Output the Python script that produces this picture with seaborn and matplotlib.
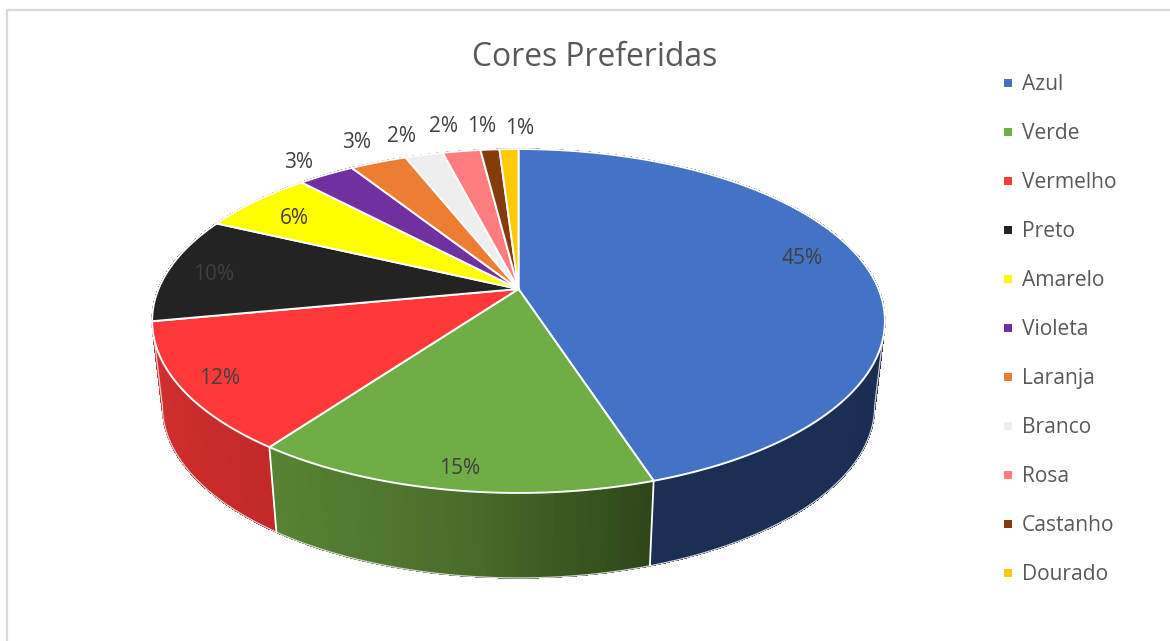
import matplotlib
matplotlib.use("Agg")
import matplotlib.pyplot as plt
import numpy as np
import seaborn as sns
from matplotlib.collections import PolyCollection

categories = ["Azul", "Verde", "Vermelho", "Preto", "Amarelo", "Violeta",
              "Laranja", "Branco", "Rosa", "Castanho", "Dourado"]
values = [45, 15, 12, 10, 6, 3, 3, 2, 2, 1, 1]
colors = ["#4472C4", "#70AD47", "#FF3939", "#232323", "#FFFF00", "#7030A0",
          "#ED7D31", "#EEEEEE", "#FF7C80", "#843C0C", "#FFC905"]
# wall shades follow the slice clockwise, so they run right to left on screen
wall_colors = [["#1A2C50", "#1B2E54"], ["#2F461A", "#4C6F2C", "#578334"],
               ["#C32929", "#D53030"], ["#151515", "#151515"],
               ["#999900", "#999900"], ["#431D60", "#431D60"],
               ["#8E4B1D", "#8E4B1D"], ["#8E8E8E", "#8E8E8E"],
               ["#99494C", "#99494C"], ["#4F2407", "#4F2407"],
               ["#997300", "#997300"]]

# layout in picture pixels
CX, CY = 518.5, 289
RX, RY, TILT = 360, 166, 0.186
DEPTH, SHRINK = 85, 0.972
label_xy = [(802, 259), (460, 468), (220, 379), (214, 275), (294, 218), (299, 162),
            (357, 142), (402, 136), (444, 127), (482, 127), (520, 129)]


def top_edge(theta):
	# theta runs clockwise from the back of the disc
	x = np.sin(theta)
	y = np.cos(theta)
	w = 1 + TILT * y
	return CX + RX * x / w, CY - RY * y / w


def bottom_edge(theta):
	x, y = top_edge(theta)
	return CX + SHRINK * (x - CX), y + DEPTH


def draw_walls(ax, starts, stops):
	# back slices first so the front ones cover them
	mids = (starts + stops) / 2
	order = np.argsort(-np.abs(mids - np.pi))
	for i in order:
		theta = np.linspace(starts[i], stops[i], 61)
		tx, ty = top_edge(theta)
		bx, by = bottom_edge(theta)
		quads = [[(tx[j], ty[j]), (tx[j + 1], ty[j + 1]), (bx[j + 1], by[j + 1]), (bx[j], by[j])]
				for j in range(60)]
		shades = sns.blend_palette(wall_colors[i], 60)
		ax.add_collection(PolyCollection(quads, facecolors=shades, edgecolors=shades,
				linewidths=0.5, antialiaseds=False, zorder=2))

	# thin rim round the visible wall, it starts where the disc is widest
	widest = np.arccos(-TILT)
	theta = np.linspace(widest, 2 * np.pi - widest, 200)
	tx, ty = top_edge(theta)
	bx, by = bottom_edge(theta)
	ax.plot(np.r_[tx[0], bx, tx[-1]], np.r_[ty[0], by, ty[-1]], color="#D4D4D4", lw=0.9, zorder=3)

	# white seams between slices
	for t in stops[:2]:
		tx, ty = top_edge(t)
		bx, by = bottom_edge(t)
		ax.plot([tx, bx], [ty, by], color="white", lw=1.3, zorder=3)


def draw_top(ax, starts, stops):
	for i in range(len(values)):
		theta = np.linspace(starts[i], stops[i], 200)
		tx, ty = top_edge(theta)
		ax.fill(np.r_[CX, tx], np.r_[CY, ty], facecolor=colors[i], edgecolor="white",
				lw=1.4, joinstyle="round", zorder=4)


if __name__ == "__main__":
	sns.set_theme(style="white")
	plt.rcParams["font.family"] = ["Open Sans", "DejaVu Sans"]

	fig, ax = plt.subplots(figsize=(11.7, 6.41), dpi=100)
	ax.set_position([0, 0, 1, 1])

	cum = np.cumsum(values) / np.sum(values) * 2 * np.pi
	starts = np.r_[0, cum[:-1]]
	stops = cum

	# the legend comes from these points, they sit hidden under the pie
	sns.scatterplot(x=[CX] * len(values), y=[CY] * len(values), hue=categories,
			hue_order=categories, palette=colors, marker="s", s=36, linewidth=0,
			zorder=1, ax=ax)

	draw_walls(ax, starts, stops)
	draw_top(ax, starts, stops)

	for i in range(len(values)):
		ax.text(label_xy[i][0], label_xy[i][1], f"{values[i]}%", ha="center", va="center",
				fontsize=15, color="#404040", zorder=5)

	ax.text(595, 57, "Cores Preferidas", ha="center", va="center", fontsize=22.85,
			color="#595959")

	# chart frame, only the top and left edges are inside the picture
	ax.plot([7, 7, 1170], [641, 10, 10], color="#D9D9D9", lw=1.6, zorder=0)

	ax.set_xlim(0, 1170)
	ax.set_ylim(641, 0)
	ax.axis("off")

	sns.move_legend(ax, "upper left", bbox_to_anchor=(998, 70), bbox_transform=ax.transData,
			frameon=False, title=None, fontsize=15.1, labelspacing=1.335, handlelength=0.6,
			handletextpad=0.35, borderpad=0.2, borderaxespad=0, labelcolor="#595959")

	fig.savefig("out.png", dpi=100)
